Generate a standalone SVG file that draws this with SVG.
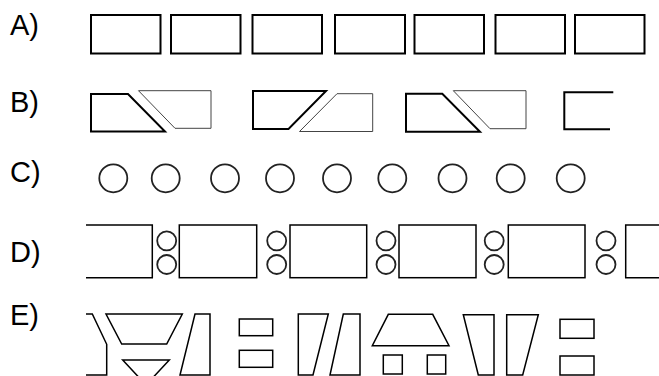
<svg xmlns="http://www.w3.org/2000/svg" width="659" height="376" viewBox="0 0 659 376">
<style>
.lbl{font-family:"Liberation Sans",Arial,sans-serif;font-size:29px;fill:#000}
.k{fill:none;stroke:#000;stroke-width:2}
.t{fill:none;stroke:#444;stroke-width:1}
.c{fill:none;stroke:#222;stroke-width:1.8}
.d{fill:none;stroke:#000;stroke-width:1.5}
</style>
<rect width="659" height="376" fill="#fff"/>
<g id="labels">
<text class="lbl" x="10" y="35">A)</text>
<text class="lbl" x="10" y="111.5">B)</text>
<text class="lbl" x="10" y="181.5">C)</text>
<text class="lbl" x="10" y="261.5">D)</text>
<text class="lbl" x="10" y="325">E)</text>
</g>
<g id="rowA">
<rect class="k" x="91" y="15" width="69.5" height="38.5"/>
<rect class="k" x="171" y="15" width="69.5" height="38.5"/>
<rect class="k" x="252.5" y="15" width="69.5" height="38.5"/>
<rect class="k" x="335" y="15" width="70" height="38.5"/>
<rect class="k" x="414.5" y="15" width="69.5" height="38.5"/>
<rect class="k" x="495.5" y="15" width="69.5" height="38.5"/>
<rect class="k" x="575" y="15" width="69.5" height="38.5"/>
</g>
<g id="rowB">
<polygon class="k" points="91,94 128,94 165,131.5 91,131.5"/>
<polygon class="t" points="138.5,90.7 211,90.7 211,128.3 175,128.3"/>
<polygon class="k" points="253,91 326,91 288.5,129 253,129"/>
<polygon class="t" points="299.5,131.5 337,93.7 372.7,93.7 372.7,131.5"/>
<polygon class="k" points="406,93.7 442.3,93.7 480,131.7 406,131.7"/>
<polygon class="t" points="453.3,90.7 526,90.7 526,128.7 490,128.7"/>
<polyline class="k" points="613.3,92.3 564.3,92.3 564.3,129.3 610,129.3"/>
</g>
<g id="rowC">
<circle class="c" cx="113.3" cy="178.3" r="14"/>
<circle class="c" cx="165.7" cy="178.3" r="14"/>
<circle class="c" cx="225" cy="178.3" r="14"/>
<circle class="c" cx="280" cy="178.3" r="14"/>
<circle class="c" cx="337" cy="178.3" r="14"/>
<circle class="c" cx="392.3" cy="178.3" r="14"/>
<circle class="c" cx="452.5" cy="178.3" r="14"/>
<circle class="c" cx="510.7" cy="178.3" r="14"/>
<circle class="c" cx="570.7" cy="178.3" r="14"/>
</g>
<g id="rowD">
<polyline class="d" points="86,225 152.3,225 152.3,277.7 86,277.7"/>
<rect class="d" x="179.3" y="225" width="77.4" height="52.7"/>
<rect class="d" x="290" y="225" width="76.7" height="52.7"/>
<rect class="d" x="399" y="225" width="77" height="52.7"/>
<rect class="d" x="508.3" y="225" width="76.7" height="52.7"/>
<polyline class="d" points="662,225 625.7,225 625.7,277.7 662,277.7"/>
<circle class="c" cx="166.7" cy="240.8" r="9.5"/>
<circle class="c" cx="166.7" cy="264.5" r="9.5"/>
<circle class="c" cx="276.7" cy="240.8" r="9.5"/>
<circle class="c" cx="276.7" cy="264.5" r="9.5"/>
<circle class="c" cx="386" cy="240.8" r="9.5"/>
<circle class="c" cx="386" cy="264.5" r="9.5"/>
<circle class="c" cx="494.2" cy="240.8" r="9.5"/>
<circle class="c" cx="494.2" cy="264.5" r="9.5"/>
<circle class="c" cx="606" cy="240.8" r="9.5"/>
<circle class="c" cx="606" cy="264.5" r="9.5"/>
</g>
<g id="rowE">
<polyline class="d" points="86,314 92.3,314 106.7,344.3 106.7,375 86,375"/>
<polygon class="d" points="106,314 182.3,314 166.7,344 121.7,344"/>
<polygon class="d" points="122.7,360 169.3,360 146,385"/>
<polygon class="d" points="195,314 210,314 210,375 180,375"/>
<rect class="d" x="239.3" y="319" width="33.4" height="16.7"/>
<rect class="d" x="239.3" y="350.3" width="33.4" height="17"/>
<polygon class="d" points="298.3,314 328.3,314 313,375 298.3,375"/>
<polygon class="d" points="343.3,314 360,314 360,375 330,375"/>
<polygon class="d" points="388.3,314.3 432.7,314.3 449,345.7 372.3,345.7"/>
<rect class="d" x="383.3" y="355" width="19" height="19"/>
<rect class="d" x="427.3" y="355" width="18.4" height="19"/>
<polygon class="d" points="463.3,314.7 494,314.7 494,375 478.3,375"/>
<polygon class="d" points="506.7,314.7 538.3,314.7 522.7,375 506.7,375"/>
<rect class="d" x="560" y="319.3" width="34" height="19"/>
<rect class="d" x="560" y="356" width="34" height="19"/>
</g>
</svg>
